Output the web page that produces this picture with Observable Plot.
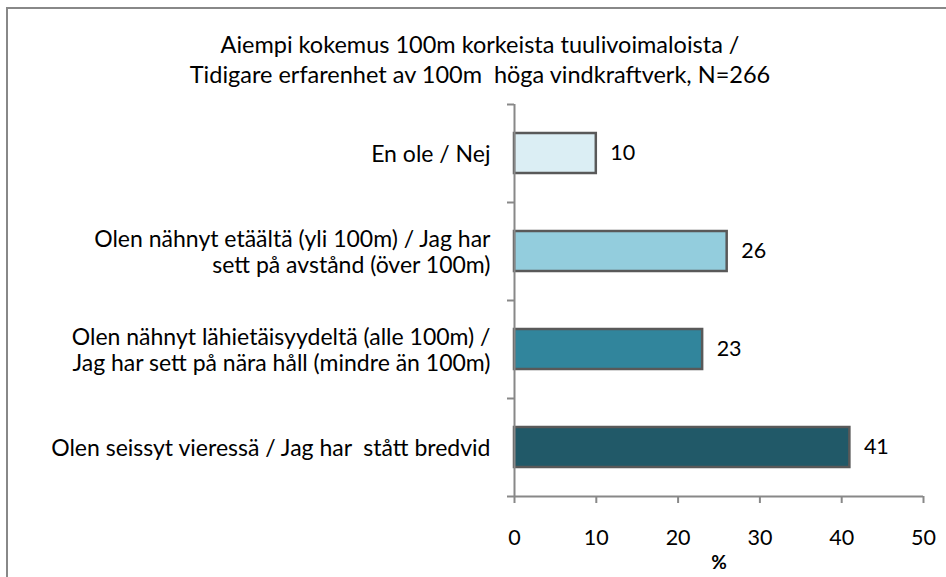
<!DOCTYPE html>
<html>
<head>
<meta charset="utf-8">
<script src="https://cdn.jsdelivr.net/npm/d3@7"></script>
<script src="https://cdn.jsdelivr.net/npm/@observablehq/plot@0.6"></script>
<style>
  html, body { margin: 0; padding: 0; background: #fff; }
  #wrap { position: relative; width: 946px; height: 577px; overflow: hidden; font-family: Lato, "Open Sans", sans-serif; }
  #frame { position: absolute; left: 6px; top: 7px; width: 960px; height: 600px; border-left: 2px solid #888; border-top: 2px solid #888; box-sizing: border-box; }
  #title { position: absolute; left: 0; width: 960px; top: 29px; text-align: center; font-size: 23.5px; line-height: 30px; color: #000; }
  #chart { position: absolute; left: 0; top: 0; }
</style>
</head>
<body>
<div id="wrap">
  <div id="frame"></div>
  <div id="title">Aiempi kokemus 100m korkeista tuulivoimaloista /<br>Tidigare erfarenhet av 100m&nbsp; höga vindkraftverk, N=266</div>
  <div id="chart"></div>
</div>
<script>
const categories = [
  "En ole / Nej",
  "Olen nähnyt etäältä (yli 100m) / Jag har\nsett på avstånd (över 100m)",
  "Olen nähnyt lähietäisyydeltä (alle 100m) /\nJag har sett på nära håll (mindre än 100m)",
  "Olen seissyt vieressä / Jag har  stått bredvid"
];
const values = [10, 26, 23, 41];
const colors = ["#dbeef4", "#93cddd", "#31859c", "#215968"];
const xTicks = [0, 10, 20, 30, 40, 50];

const data = categories.map((c, i) => ({category: c, value: values[i], color: colors[i]}));

const plot = Plot.plot({
  width: 946,
  height: 577,
  marginLeft: 514,
  marginRight: 23,
  marginTop: 104,
  marginBottom: 81,
  style: {background: "transparent", fontFamily: "Lato, 'Open Sans', sans-serif", color: "#000"},
  x: {domain: [0, 50], ticks: xTicks},
  y: {domain: categories, padding: 0},
  marks: [
    Plot.barX(data, {y: "category", x: "value", fill: "color", stroke: "#595959", strokeWidth: 2.5, insetTop: 29, insetBottom: 29}),
    Plot.text(data, {y: "category", x: "value", text: d => String(d.value), textAnchor: "start", dx: 14, fontSize: 21.5, fill: "#000"}),
    Plot.ruleX([0], {stroke: "#888", strokeWidth: 2}),
    Plot.ruleY([0], {y: () => categories[3], dy: 49, stroke: "#888", strokeWidth: 2}),
    Plot.axisY({tickSize: 0, tickPadding: 24, fontSize: 23, lineHeight: 1.13, dy: 0, textAnchor: "end", fill: "#000", label: null}),
    Plot.axisY({tickSize: 7, text: null, dy: 49, stroke: "#888", strokeWidth: 2, label: null}),
    Plot.axisY({ticks: [categories[0]], tickSize: 7, text: null, dy: -49, stroke: "#888", strokeWidth: 2, label: null}),
    Plot.axisX({ticks: xTicks, tickSize: 7, tickPadding: 26, fontSize: 21.5, stroke: "#888", strokeWidth: 2, fill: "#000", label: null}),
    Plot.text(["%"], {frameAnchor: "bottom", dy: 72, text: d => d, fontSize: 19, fontWeight: "bold", fill: "#000"})
  ]
});
document.getElementById("chart").appendChild(plot);
</script>
</body>
</html>
